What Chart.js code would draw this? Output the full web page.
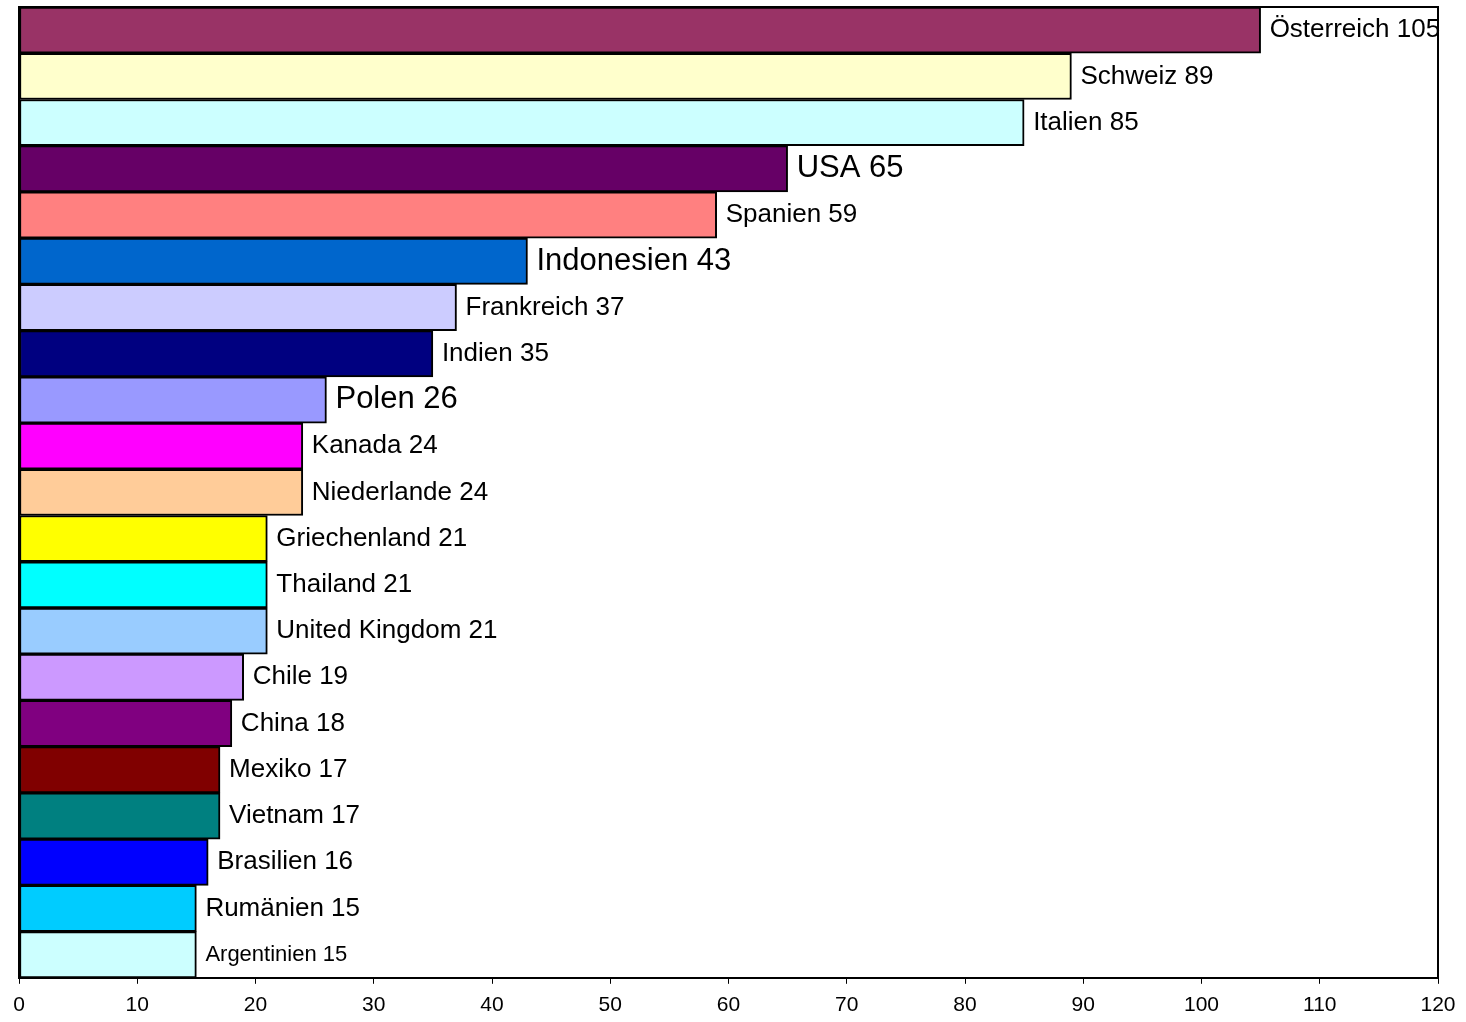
<!DOCTYPE html>
<html>
<head>
<meta charset="utf-8">
<script src="https://cdn.jsdelivr.net/npm/chart.js@4.4.1/dist/chart.umd.min.js"></script>
<style>
  html, body { margin: 0; padding: 0; background: #fff; }
  #wrap { width: 1466px; height: 1022px; }
</style>
</head>
<body>
<div id="wrap"><canvas id="myChart"></canvas></div>
<script>
// data
const countries = ['Österreich', 'Schweiz', 'Italien', 'USA', 'Spanien', 'Indonesien', 'Frankreich',
  'Indien', 'Polen', 'Kanada', 'Niederlande', 'Griechenland', 'Thailand', 'United Kingdom',
  'Chile', 'China', 'Mexiko', 'Vietnam', 'Brasilien', 'Rumänien', 'Argentinien']
const values = [105, 89, 85, 65, 59, 43, 37, 35, 26, 24, 24, 21, 21, 21, 19, 18, 17, 17, 16, 15, 15]
const xTicks = [0, 10, 20, 30, 40, 50, 60, 70, 80, 90, 100, 110, 120]

// styles
const barColors = ['#993366', '#FFFFCC', '#CCFFFF', '#660066', '#FF8080', '#0066CC', '#CCCCFF',
  '#000080', '#9999FF', '#FF00FF', '#FFCC99', '#FFFF00', '#00FFFF', '#99CCFF',
  '#CC99FF', '#800080', '#800000', '#008080', '#0000FF', '#00CCFF', '#CCFFFF']
const labelSizes = [26, 26, 26, 31, 26, 31, 26, 26, 31, 26, 26, 26, 26, 26, 26, 26, 26, 26, 26, 26, 22]

const FONT = '"Liberation Sans", Arial, sans-serif'
Chart.defaults.font.family = FONT

// labels next to bar ends
const barLabels = {
    id: 'barLabels',
    afterDatasetsDraw(chart) {
        const ctx = chart.ctx
        const meta = chart.getDatasetMeta(0)
        ctx.save()
        ctx.fillStyle = '#000'
        ctx.textBaseline = 'middle'
        ctx.textAlign = 'left'
        meta.data.forEach((bar, i) => {
            ctx.font = labelSizes[i] + 'px ' + FONT
            ctx.fillText(countries[i] + ' ' + values[i], bar.x + 9, bar.y)
        })
        ctx.restore()
    }
}

// top and right frame lines
const frame = {
    id: 'frame',
    afterDraw(chart) {
        const { ctx, chartArea: a } = chart
        ctx.save()
        ctx.strokeStyle = '#000'
        ctx.lineWidth = 2
        ctx.beginPath()
        ctx.moveTo(a.left, a.top)
        ctx.lineTo(a.right, a.top)
        ctx.lineTo(a.right, a.bottom)
        ctx.stroke()
        ctx.restore()
    }
}

new Chart(document.getElementById('myChart'), {
    type: 'bar',
    data: {
        labels: countries,
        datasets: [{
            data: values,
            backgroundColor: barColors,
            borderColor: '#000',
            borderWidth: 2,
            borderSkipped: false,
            barPercentage: 1,
            categoryPercentage: 1
        }]
    },
    options: {
        indexAxis: 'y',
        responsive: true,
        maintainAspectRatio: false,
        animation: false,
        layout: {
            padding: { left: 11, right: 28, top: 7, bottom: -5 }
        },
        scales: {
            x: {
                min: 0,
                max: 120,
                afterBuildTicks: (axis) => { axis.ticks = xTicks.map(v => ({ value: v })) },
                grid: {
                    drawOnChartArea: false,
                    drawTicks: true,
                    tickLength: 6,
                    color: '#000',
                    lineWidth: 1
                },
                border: { display: true, color: '#000', width: 2 },
                ticks: {
                    color: '#000',
                    font: { size: 21 },
                    padding: 9,
                    maxRotation: 0
                }
            },
            y: {
                grid: { display: false },
                border: { display: true, color: '#000', width: 2 },
                ticks: { display: false }
            }
        },
        plugins: {
            legend: { display: false },
            tooltip: { enabled: false }
        }
    },
    plugins: [barLabels, frame]
})
</script>
</body>
</html>
